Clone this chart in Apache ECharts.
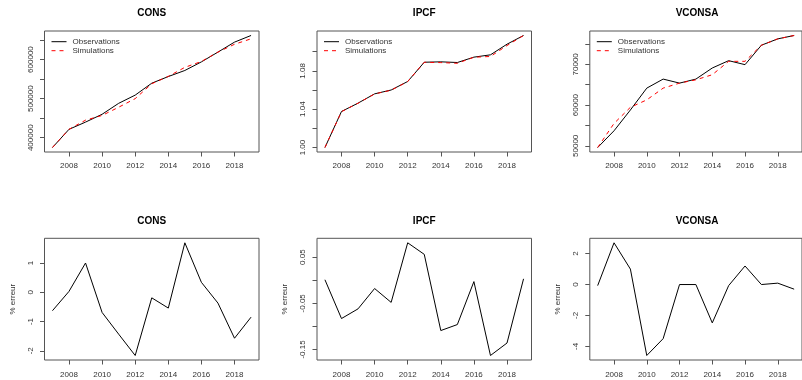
<!DOCTYPE html>
<html><head><meta charset="utf-8">
<script src="https://cdn.jsdelivr.net/npm/echarts@6/dist/echarts.min.js"></script>
<style>html,body{margin:0;padding:0;background:#fff}#c{width:802px;height:380px}</style>
</head><body><div id="c"></div>
<script>
const years = [2007,2008,2009,2010,2011,2012,2013,2014,2015,2016,2017,2018,2019];
const xTicks = [2008,2010,2012,2014,2016,2018];

const consObs = [375000,421500,440000,460000,488000,509000,539500,556500,572000,594000,619000,644500,661500];
const consSim = [375000,421500,445000,457000,478000,500000,538000,557000,580000,595000,619000,639000,653000];
const ipcfObs = [1.000,1.0376,1.0463,1.056,1.060,1.0689,1.089,1.0894,1.0887,1.0943,1.0967,1.1078,1.1169];
const ipcfSim = [1.000,1.0374,1.0462,1.0559,1.0598,1.0688,1.0889,1.0886,1.0879,1.0942,1.0950,1.1064,1.1169];
const vconsaObs = [49590,53700,58800,64160,66380,65390,66380,69100,70900,69920,74690,76250,77080];
const vconsaSim = [49590,55500,59460,61280,64160,65390,66200,67450,70740,70740,74690,76250,77080];
const consErr = [-0.63,0.03,1.0,-0.69,-1.43,-2.16,-0.19,-0.54,1.69,0.34,-0.37,-1.57,-0.85];
const ipcfErr = [0.001,-0.083,-0.062,-0.018,-0.048,0.081,0.056,-0.109,-0.096,-0.003,-0.163,-0.136,0.003];
const vconsaErr = [-0.07,2.7,1.0,-4.59,-3.5,0,0,-2.48,-0.07,1.2,0,0.09,-0.3];

const consTicks = [400000,450000,500000,550000,600000,650000];
const consLabels = [400000,500000,600000];
const ipcfTicks = [1.00,1.02,1.04,1.06,1.08,1.10];
const ipcfLabels = [1.00,1.04,1.08];
const vconsaTicks = [50000,55000,60000,65000,70000,75000];
const vconsaLabels = [50000,60000,70000];
const consErrTicks = [-2,-1,0,1];
const ipcfErrTicks = [-0.15,-0.10,-0.05,0.00,0.05];
const ipcfErrLabels = [-0.15,-0.05,0.05];
const vconsaErrTicks = [-4,-2,0,2];

const titles = ['CONS','IPCF','VCONSA'];
const FONT = '"Liberation Sans", Arial, sans-serif';
const TXT = '#333';
const BOX = '#555';

function pair(v){ return years.map((y,i)=>[y,v[i]]); }
function rng(arrs){
  let lo=Infinity, hi=-Infinity;
  arrs.forEach(a=>a.forEach(v=>{lo=Math.min(lo,v);hi=Math.max(hi,v);}));
  const p=(hi-lo)*0.04; return [lo-p,hi+p];
}

const panelLeft = [44.5, 317, 589.8];
const panelW = 214.5;
const rowTop = [31, 238.3];
const rowH = [121, 121.7];

const panels = [
  {series:[consObs,consSim], ticks:consTicks, labels:consLabels, dec:0, legend:true},
  {series:[ipcfObs,ipcfSim], ticks:ipcfTicks, labels:ipcfLabels, dec:2, legend:true},
  {series:[vconsaObs,vconsaSim], ticks:vconsaTicks, labels:vconsaLabels, dec:0, legend:true},
  {series:[consErr], ticks:consErrTicks, labels:consErrTicks, dec:0, name:true},
  {series:[ipcfErr], ticks:ipcfErrTicks, labels:ipcfErrLabels, dec:2, name:true},
  {series:[vconsaErr], ticks:vconsaErrTicks, labels:vconsaErrTicks, dec:0, name:true}
];

const grid=[], xAxis=[], yAxis=[], series=[], title=[], legend=[];
panels.forEach((p,k)=>{
  const col=k%3, row=Math.floor(k/3);
  grid.push({left:panelLeft[col], top:rowTop[row], width:panelW, height:rowH[row],
    show:true, borderColor:BOX, borderWidth:1, backgroundColor:'transparent', containLabel:false});
  xAxis.push({type:'value', gridIndex:k, min:2006.52, max:2019.48,
    axisLine:{show:false, onZero:false}, splitLine:{show:false},
    axisTick:{show:true, length:4.5, customValues:xTicks, lineStyle:{color:BOX}},
    axisLabel:{customValues:xTicks, fontSize:8, fontFamily:FONT, color:TXT, margin: row===0 ? 10 : 11, formatter:v=>String(v)}});
  const r=rng(p.series);
  yAxis.push({type:'value', gridIndex:k, min:r[0], max:r[1], scale:true,
    name: p.name ? '% erreur' : '', nameLocation:'middle', nameGap:28, nameRotate:90,
    nameTextStyle:{fontSize:8, fontFamily:FONT, color:TXT},
    axisLine:{show:false, onZero:false}, splitLine:{show:false},
    axisTick:{show:true, length:4.5, customValues:p.ticks, lineStyle:{color:BOX}},
    axisLabel:{customValues:p.labels, rotate:90, fontSize:8, fontFamily:FONT, color:TXT, margin:10,
      formatter:v=>Number(v).toFixed(p.dec)}});
  const names = p.legend ? ['Observations','Simulations'] : ['err'+k];
  p.series.forEach((s,j)=>{
    series.push({type:'line', name:names[j], xAxisIndex:k, yAxisIndex:k, data:pair(s),
      symbol:'none', silent:true, animation:false,
      lineStyle: j===0 ? {color:'#000', width:1} : {color:'#ff0000', width:1, type:[4,4]},
      itemStyle:{color: j===0 ? '#000' : '#ff0000'}});
  });
  title.push({text:titles[col], left:panelLeft[col]+panelW/2, top: row===0 ? 8 : 216, textAlign:'center', padding:0,
    textStyle:{fontSize:10, fontWeight:'bold', fontFamily:FONT, color:'#000'}});
  if(p.legend){
    legend.push({orient:'vertical', left:panelLeft[col]+6.5, top:37.2, itemWidth:15, itemHeight:9, itemGap:0,
      selectedMode:false, data:[{name:'Observations'},{name:'Simulations'}],
      itemStyle:{opacity:0, borderWidth:0},
      lineStyle:{width:1},
      textStyle:{fontSize:8, lineHeight:9, fontFamily:FONT, color:TXT, padding:[0,0,0,1]}, padding:0});
  }
});

const chart = echarts.init(document.getElementById('c'), null, {renderer:'canvas'});
chart.setOption({animation:false, backgroundColor:'#fff', title, legend, grid, xAxis, yAxis, series});
</script></body></html>
